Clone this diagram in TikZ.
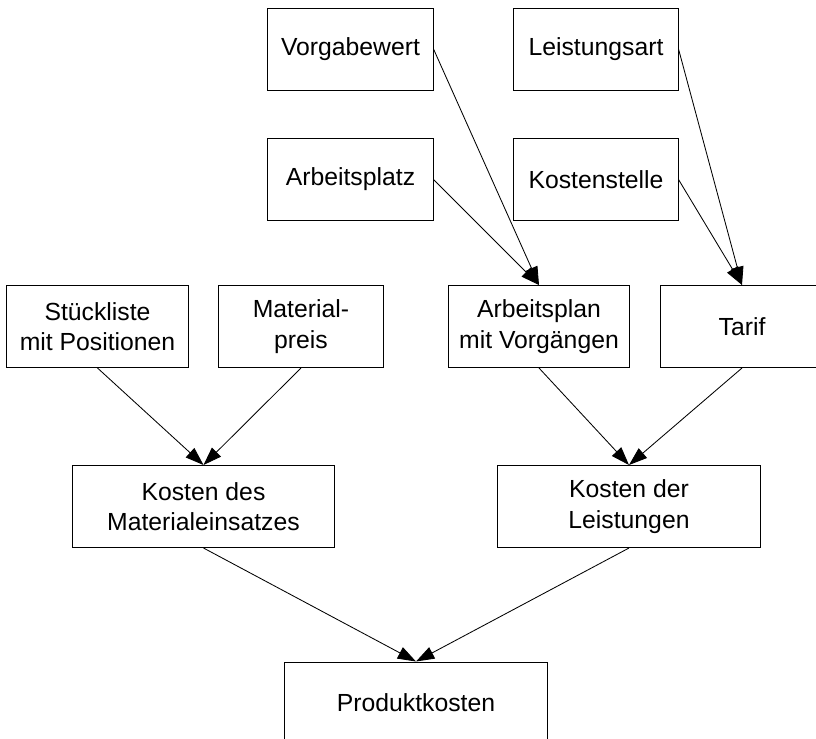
\documentclass[tikz,border=0pt]{standalone}
\usepackage{fontspec}
\setmainfont{Liberation Sans}
\usepackage{tikz}
\usetikzlibrary{arrows.meta,positioning,calc}

\begin{document}
\begin{tikzpicture}[x=0.025cm, y=-0.025cm,
  every node/.style={font=\fontsize{17.6}{21.5}\selectfont},
  box/.style={draw, line width=0.7pt, align=center, minimum height=2.05cm, inner sep=0pt},
  arr/.style={line width=0.6pt, -{Triangle[length=13pt, width=9pt]}}]

\useasboundingbox (0,0) rectangle (816,738);

% obere Reihen
\node[box, minimum width=4.125cm] (vorgabe) at (350.5,49) {Vorgabewert};
\node[box, minimum width=4.1cm] (lart) at (596,49) {Leistungsart};
\node[box, minimum width=4.125cm] (platz) at (350.5,179.5) {Arbeitsplatz};
\node[box, minimum width=4.1cm] (kstelle) at (596,179.5) {Kostenstelle};

% mittlere Reihe
\node[box, minimum width=4.525cm] (stueckliste) at (97.5,326.5) {St\"uckliste\\mit Positionen};
\node[box, minimum width=4.1cm] (matpreis) at (301,326.5) {Material-\\preis};
\node[box, minimum width=4.5cm] (arbplan) at (539,326.5) {Arbeitsplan\\mit Vorg\"angen};
\node[box, minimum width=4.05cm] (tarif) at (742,326.5) {Tarif};

% Kosten
\node[box, minimum width=6.525cm] (kmat) at (203.5,506.5) {Kosten des\\Materialeinsatzes};
\node[box, minimum width=6.55cm] (kleist) at (629,506.5) {Kosten der\\Leistungen};
\node[box, minimum width=6.55cm] (produkt) at (416,703) {Produktkosten};

\foreach \from/\to in {vorgabe/arbplan,platz/arbplan,lart/tarif,kstelle/tarif}
  \draw[arr] (\from.east) -- (\to.north);
\foreach \from/\to in {stueckliste/kmat,matpreis/kmat,arbplan/kleist,tarif/kleist,kmat/produkt,kleist/produkt}
  \draw[arr] (\from.south) -- (\to.north);
\end{tikzpicture}
\end{document}
